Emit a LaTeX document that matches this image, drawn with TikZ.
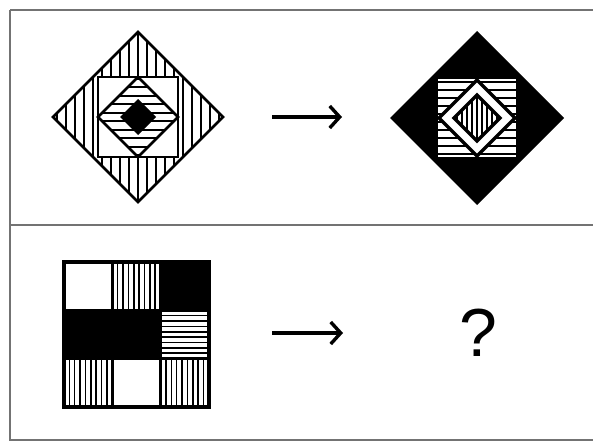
\documentclass[tikz,border=0pt]{standalone}
\usepackage{fontspec}
\setmainfont{Liberation Sans}
\usetikzlibrary{arrows.meta}

\begin{document}
\begin{tikzpicture}[x=1pt,y=-1pt,line width=2.7pt,line join=miter,
  hatch/.style={line width=1.8pt},
  frame/.style={black!55,line width=2.4pt},
  >={Straight Barb[length=10pt,width=22pt]}]
  \useasboundingbox (0,0) rectangle (593,441);
  % frame and divider
  \draw[frame] (10,10) -- (593,10);
  \draw[frame] (10,225) -- (593,225);
  \draw[frame] (10,440) -- (593,440);
  \draw[frame] (10,10) -- (10,441);

  % upper left figure
  \begin{scope}[shift={(138,117)}]
    \coordinate (A) at (0,0);
    \begin{scope}
      \clip (-85,0) -- (0,-85) -- (85,0) -- (0,85) -- cycle;
      \foreach \k in {-9,...,9}
        \draw[hatch] (9*\k,-90) -- (9*\k,90);
    \end{scope}
    \filldraw[fill=white] (-40,-40) rectangle (40,40);
    \draw (-85,0) -- (0,-85) -- (85,0) -- (0,85) -- cycle;
    \begin{scope}
      \clip (-40,0) -- (0,-40) -- (40,0) -- (0,40) -- cycle;
      \foreach \k in {-5,...,4}
        \draw[hatch] (-45,8.5*\k+4.25) -- (45,8.5*\k+4.25);
    \end{scope}
    \draw (-40,0) -- (0,-40) -- (40,0) -- (0,40) -- cycle;
    \fill (-18,0) -- (0,-18) -- (18,0) -- (0,18) -- cycle;
  \end{scope}

  % upper right figure
  \begin{scope}[shift={(477,118)}]
    \coordinate (B) at (0,0);
    \fill (-87,0) -- (0,-87) -- (87,0) -- (0,87) -- cycle;
    \fill[white] (-39,-39) rectangle (39,39);
    \begin{scope}
      \clip (-39,-39) rectangle (39,39);
      \foreach \k in {-5,...,4}
        \draw[hatch] (-40,8*\k+4) -- (40,8*\k+4);
    \end{scope}
    \filldraw[fill=white,line width=3.4pt] (-38,0) -- (0,-38) -- (38,0) -- (0,38) -- cycle;
    \begin{scope}
      \clip (-23,0) -- (0,-23) -- (23,0) -- (0,23) -- cycle;
      \foreach \k in {-4,...,4}
        \draw[line width=1.8pt] (5*\k,-25) -- (5*\k,25);
    \end{scope}
    \draw[line width=3.4pt] (-23,0) -- (0,-23) -- (23,0) -- (0,23) -- cycle;
  \end{scope}

  % lower grid
  \begin{scope}[shift={(64,262)}]
    \def\c{48.3}
    \fill (2*\c,0) rectangle (3*\c,\c);
    \fill (0,\c) rectangle (2*\c,2*\c);
    \foreach \i/\j in {1/0,0/2,2/2}
      \foreach \m in {1,...,8}
        \draw[hatch,line width=1.5pt] (\i*\c+\m*\c/9,\j*\c) -- (\i*\c+\m*\c/9,\j*\c+\c);
    \foreach \m in {1,...,8}
      \draw[hatch,line width=1.5pt] (2*\c,\c+\m*\c/9) -- (3*\c,\c+\m*\c/9);
    \draw (\c,0) -- (\c,3*\c);
    \draw (2*\c,0) -- (2*\c,3*\c);
    \draw (0,\c) -- (3*\c,\c);
    \draw (0,2*\c) -- (3*\c,2*\c);
    \draw[line width=3.6pt] (0,0) rectangle (3*\c,3*\c);
  \end{scope}

  % arrows
  \coordinate (a1) at (272,117);
  \coordinate (b1) at (342,117);
  \draw[->,line width=3.4pt] (a1) -- (b1);
  \coordinate (a2) at (272,333);
  \coordinate (b2) at (343,333);
  \draw[->,line width=3.4pt] (a2) -- (b2);
  \node (q) at (478,333) {\fontsize{68}{68}\selectfont ?};
\end{tikzpicture}
\end{document}
